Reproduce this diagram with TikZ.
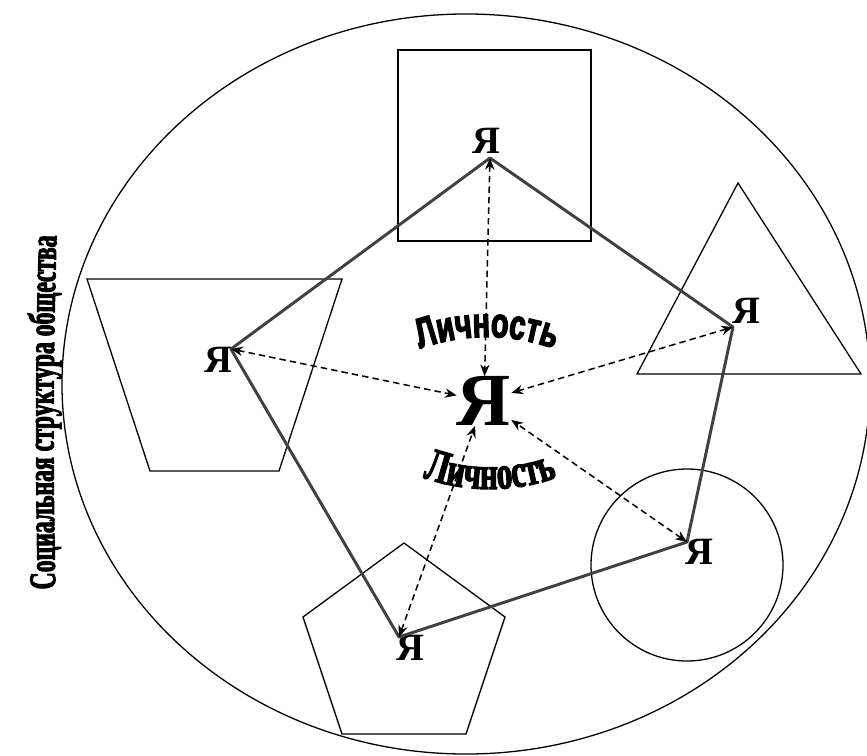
\documentclass[tikz,border=0pt]{standalone}
\usepackage{fontspec}
\setmainfont{Liberation Serif}
\setsansfont{Liberation Sans}
\newfontfamily\narrowserif[FakeStretch=0.66, FakeBold=2.5, UprightFont=* Bold]{Liberation Serif}
\newfontfamily\labelserif[FakeStretch=0.63, FakeBold=2.5, UprightFont=* Bold]{Liberation Serif}
\newfontfamily\heavysans[FakeStretch=0.68, FakeBold=3, UprightFont=* Bold]{Liberation Sans}
\usetikzlibrary{arrows.meta,decorations.text}
\definecolor{linkGray}{RGB}{64,64,64}

\begin{document}
\begin{tikzpicture}[x=0.03cm, y=-0.03cm,
    figline/.style={line width=1.1pt},
    ya/.style={inner sep=0pt, font=\bfseries\fontsize{33}{33}\selectfont},
    link/.style={linkGray, line width=2.5pt, line cap=round},
    bond/.style={line width=1.3pt, dash pattern=on 5.5pt off 3.5pt,
      {Stealth[length=10pt,width=8pt]}-{Stealth[length=10pt,width=8pt]}}]
    \useasboundingbox (0,0) rectangle (867,756);

    \draw[figline] (466,384) ellipse [x radius=12.12cm, y radius=11.1cm];
    \draw[figline] (398,50) rectangle (591,241);
    \draw[figline] (738,183) -- (861,374) -- (637,374) -- cycle;
    \draw[figline] (87,279) -- (342,279) -- (279,471) -- (150,471) -- cycle;
    \draw[figline] (687,565) circle [radius=2.88cm];
    \draw[figline] (404,543) -- (505,617) -- (466,734) -- (342,734) -- (303,617) -- cycle;

    \coordinate (pTop) at (490,158);
    \coordinate (pLeft) at (231,349);
    \coordinate (pRight) at (733,327);
    \coordinate (pCirc) at (687,542);
    \coordinate (pPent) at (399,637);

    \node[ya] (yaTop) at (486,141) {Я};
    \node[ya] (yaLeft) at (218,360) {Я};
    \node[ya] (yaRight) at (746,311) {Я};
    \node[ya] (yaCirc) at (699,552) {Я};
    \node[ya] (yaPent) at (410,648) {Я};
    \node[inner sep=0pt, font=\bfseries\fontsize{64}{64}\selectfont] (me) at (484,401) {Я};

    \draw[link] (pTop) -- (pLeft);
    \draw[link] (pTop) -- (pRight);
    \draw[link] (pRight) -- (pCirc);
    \draw[link] (pCirc) -- (pPent);
    \draw[link] (pPent) -- (pLeft);

    \draw[bond] (pTop) -- (me);
    \draw[bond] (pLeft) -- (me);
    \draw[bond] (pRight) -- (me);
    \draw[bond] (pCirc) -- (me);
    \draw[bond] (pPent) -- (me);

    {\heavysans\fontsize{36}{36}\selectfont
    \path[decorate, decoration={text along path, text align=center,
      text={|\heavysans\fontsize{36}{36}\selectfont|Личность}}]
      (487,532) ++(118:5.85cm) arc [start angle=118, end angle=62, radius=5.85cm];}
    {\narrowserif\fontsize{40}{40}\selectfont
    \path[decorate, decoration={text along path, text align=center,
      text={|\narrowserif\fontsize{40}{40}\selectfont|Личность}}]
      (490,289) ++(232:6cm) arc [start angle=232, end angle=308, radius=6cm];}
    {\labelserif\fontsize{32}{32}\selectfont
    \path[decorate, decoration={text along path, text align=center,
      text={|\labelserif\fontsize{32}{32}\selectfont|Социальная структура общества}}]
      (57,645) .. controls (52,505) and (52,315) .. (59,180);}
  \end{tikzpicture}
\end{document}
